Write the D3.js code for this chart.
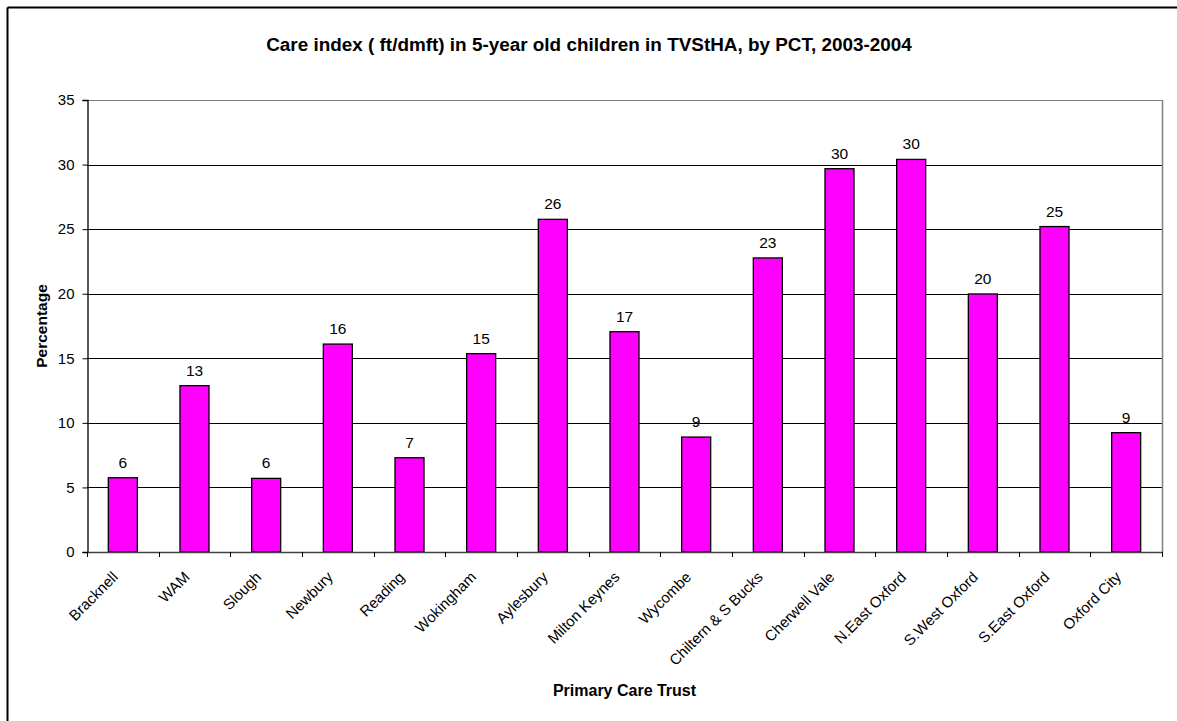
<!DOCTYPE html>
<html>
<head>
<meta charset="utf-8">
<script src="https://cdn.jsdelivr.net/npm/d3@7"></script>
<style>
  html, body { margin: 0; padding: 0; background: #fff; }
  svg { display: block; }
  text { font-family: "Liberation Sans", Arial, sans-serif; fill: #000; }
</style>
</head>
<body>
<script>
const categories = ["Bracknell", "WAM", "Slough", "Newbury", "Reading", "Wokingham", "Aylesbury",
  "Milton Keynes", "Wycombe", "Chiltern & S Bucks", "Cherwell Vale", "N.East Oxford",
  "S.West Oxford", "S.East Oxford", "Oxford City"];
const values = [5.75, 12.88, 5.7, 16.1, 7.3, 15.36, 25.76, 17.06, 8.9, 22.77, 29.68, 30.4, 19.98, 25.2, 9.24];
const yTicks = [0, 5, 10, 15, 20, 25, 30, 35];
const title = "Care index ( ft/dmft) in 5-year old children in TVStHA, by PCT, 2003-2004";
const xTitle = "Primary Care Trust";
const yTitle = "Percentage";

const W = 1177, H = 721;
const plot = { left: 87, right: 1162, top: 100, bottom: 552 };
const FONT = "Liberation Sans, Arial, sans-serif";

const svg = d3.select("body").append("svg").attr("width", W).attr("height", H);

// outer chart border (top and left visible)
svg.append("line").attr("x1", 7.5).attr("x2", W).attr("y1", 7.5).attr("y2", 7.5)
  .attr("stroke", "#000").attr("stroke-width", 2);
svg.append("line").attr("x1", 7.5).attr("x2", 7.5).attr("y1", 7.5).attr("y2", H)
  .attr("stroke", "#000").attr("stroke-width", 2);

const x = d3.scaleBand().domain(categories).range([plot.left, plot.right])
  .paddingInner(0.595).paddingOuter(0.2975);
const y = d3.scaleLinear().domain([0, 35]).range([plot.bottom, plot.top]);

// gridlines
svg.append("g").selectAll("line").data(yTicks.filter(t => t > 0)).join("line")
  .attr("x1", plot.left).attr("x2", plot.right)
  .attr("y1", d => Math.round(y(d)) + 0.5).attr("y2", d => Math.round(y(d)) + 0.5)
  .attr("stroke", d => d === 35 ? "#808080" : "#000").attr("stroke-width", 1);

// right border of plot area
svg.append("line").attr("x1", plot.right + 0.5).attr("x2", plot.right + 0.5)
  .attr("y1", plot.top).attr("y2", plot.bottom)
  .attr("stroke", "#808080").attr("stroke-width", 1.5);

// bars
svg.append("g").selectAll("rect").data(values).join("rect")
  .attr("x", (d, i) => x(categories[i]))
  .attr("y", d => y(d))
  .attr("width", x.bandwidth())
  .attr("height", d => y(0) - y(d))
  .attr("fill", "#ff00ff").attr("stroke", "#000").attr("stroke-width", 1.3);

// data labels
svg.append("g").selectAll("text").data(values).join("text")
  .attr("x", (d, i) => x(categories[i]) + x.bandwidth() / 2)
  .attr("y", d => y(d) - 10)
  .attr("text-anchor", "middle").attr("font-size", 15.5)
  .text(d => Math.round(d));

// y axis
const yAxis = d3.axisLeft(y).tickValues(yTicks).tickSize(5).tickPadding(8).tickFormat(d3.format("d"));
const gy = svg.append("g").attr("transform", `translate(${plot.left + 0.5},0)`).call(yAxis);
gy.select(".domain").attr("stroke", "#000").attr("stroke-width", 1.3);
gy.selectAll(".tick line").attr("stroke", "#000");
gy.selectAll(".tick text").attr("font-size", 15).attr("font-family", FONT).attr("fill", "#000");

// x axis line with boundary ticks
const boundaries = d3.range(categories.length + 1).map(i => plot.left + i * x.step());
const gx = svg.append("g");
gx.append("line").attr("x1", plot.left).attr("x2", plot.right + 1)
  .attr("y1", plot.bottom + 0.5).attr("y2", plot.bottom + 0.5)
  .attr("stroke", "#404040").attr("stroke-width", 1.5);
gx.selectAll("line.tk").data(boundaries).join("line").attr("class", "tk")
  .attr("x1", d => Math.round(d) + 0.5).attr("x2", d => Math.round(d) + 0.5)
  .attr("y1", plot.bottom).attr("y2", plot.bottom + 5)
  .attr("stroke", "#000").attr("stroke-width", 1);

// category labels rotated
gx.selectAll("text").data(categories).join("text")
  .attr("transform", d => `translate(${x(d) + x.bandwidth() / 2 - 4},${plot.bottom + 26}) rotate(-45)`)
  .attr("text-anchor", "end").attr("font-size", 15)
  .text(d => d);

// titles
svg.append("text").attr("x", 589).attr("y", 51).attr("text-anchor", "middle")
  .attr("font-size", 18.9).attr("font-weight", "bold").text(title);
svg.append("text").attr("x", (plot.left + plot.right) / 2).attr("y", 696).attr("text-anchor", "middle")
  .attr("font-size", 16).attr("font-weight", "bold").text(xTitle);
svg.append("text").attr("transform", `translate(47,${(plot.top + plot.bottom) / 2}) rotate(-90)`)
  .attr("text-anchor", "middle").attr("font-size", 15.5).attr("font-weight", "bold").text(yTitle);
</script>
</body>
</html>
